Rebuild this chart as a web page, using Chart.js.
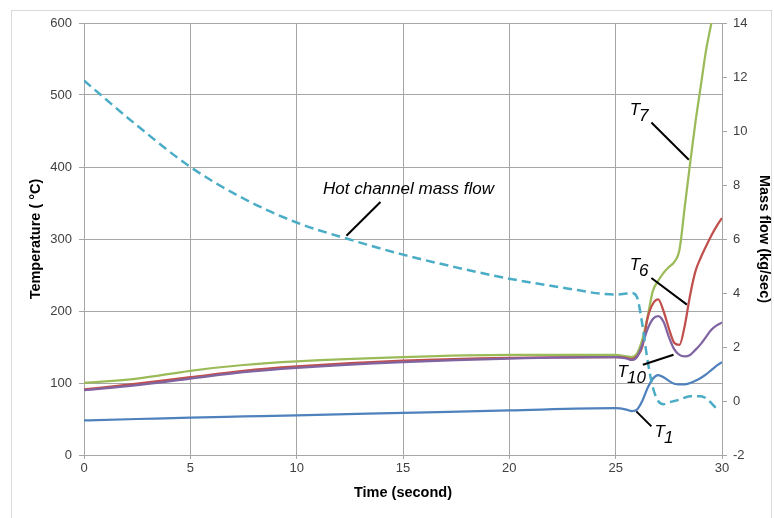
<!DOCTYPE html>
<html>
<head>
<meta charset="utf-8">
<script src="https://cdn.jsdelivr.net/npm/chart.js@4.4.0/dist/chart.umd.min.js"></script>
<style>
    html, body { margin: 0; padding: 0; background: #fff; }
    #wrap { position: relative; width: 774px; height: 518px; overflow: hidden; }
    #frame { position: absolute; left: 11px; top: 10px; width: 761px; height: 530px; border: 1px solid #d9d9d9; box-sizing: border-box; }
    #chart { position: absolute; left: 0; top: 0; }
</style>
</head>
<body>
<div id="wrap">
    <div id="frame"></div>
    <canvas id="chart" width="774" height="518"></canvas>
</div>
<script>
// time axis for the temperature curves (seconds)
const timeT = [0, 2.5, 5, 7.5, 10, 15, 20, 25, 25.5, 25.75, 26, 26.25, 26.5, 26.75, 27, 27.25, 27.5, 27.75, 28, 28.25, 28.5, 28.75, 29, 29.25, 29.5, 29.75, 30];
const tempT7  = [100, 106, 117, 125, 130, 136, 139, 139, 137, 136, 141, 160, 192, 228, 242, 253, 261, 268, 285, 345, 405, 462, 512, 562, 600, 640, null];
const tempT6  = [91, 99, 108, 117, 123, 131, 135, 136, 135, 133, 137, 150, 190, 210, 216, 200, 176, 156, 153, 180, 222, 255, 274, 290, 305, 318, 329];
const tempT10 = [90, 97, 106, 115, 121, 129, 134, 136, 134, 132, 136, 153, 175, 189, 193, 185, 164, 147, 139, 137, 139, 146, 154, 164, 174, 180, 184];
const tempT1  = [48, 50, 52, 53.5, 55, 58.5, 62, 65, 63, 61, 63, 75, 93, 106, 111, 108, 103, 99, 98, 98, 100, 103, 107, 112, 118, 124, 129];

// hot channel mass flow (kg/sec), right axis
const timeFlow = [0, 2.5, 5, 7.5, 10, 12.5, 15, 17.5, 20, 22.5, 25, 25.5, 25.75, 26, 26.25, 26.5, 26.75, 27, 27.25, 27.5, 28, 28.5, 29, 29.25, 29.5, 29.7];
const massFlow = [11.87, 10.2, 8.67, 7.5, 6.61, 5.98, 5.42, 4.95, 4.53, 4.2, 3.94, 3.98, 4.0, 3.85, 2.85, 1.5, 0.5, 0.0, -0.12, -0.05, 0.05, 0.18, 0.18, 0.1, -0.08, -0.25];

// axis ticks
const timeTicks = { min: 0, max: 30, step: 5 };
const tempTicks = { min: 0, max: 600, step: 100 };
const flowTicks = { min: -2, max: 14, step: 2 };

const toPoints = (xs, ys) => xs.map((x, i) => ({ x: x, y: ys[i] }));

// callouts: text anchor + leader line, in data units of the given axis
const callouts = [
    { axis: 'y1', text: 'Hot channel mass flow', sub: '', at: [11.24, 7.68], line: [[13.94, 7.37], [12.34, 6.12]] },
    { axis: 'y', text: 'T', sub: '7', at: [25.66, 472.6], line: [[26.68, 461.9], [28.44, 410.1]] },
    { axis: 'y', text: 'T', sub: '6', at: [25.66, 257.4], line: [[26.68, 245.8], [28.35, 208.8]] },
    { axis: 'y', text: 'T', sub: '10', at: [25.09, 108.8], line: [[26.28, 125.4], [27.72, 139.3]] },
    { axis: 'y', text: 'T', sub: '1', at: [26.83, 25.4], line: [[25.97, 60.6], [26.68, 39.7]] }
];

const calloutPlugin = {
    id: 'callouts',
    afterDatasetsDraw(chart) {
        const ctx = chart.ctx;
        const xs = chart.scales.x;
        ctx.save();
        callouts.forEach(c => {
            const ys = chart.scales[c.axis];
            ctx.strokeStyle = '#000';
            ctx.lineWidth = 2;
            ctx.beginPath();
            ctx.moveTo(xs.getPixelForValue(c.line[0][0]), ys.getPixelForValue(c.line[0][1]));
            ctx.lineTo(xs.getPixelForValue(c.line[1][0]), ys.getPixelForValue(c.line[1][1]));
            ctx.stroke();

            const tx = xs.getPixelForValue(c.at[0]);
            const ty = ys.getPixelForValue(c.at[1]);
            ctx.fillStyle = '#000';
            ctx.font = 'italic 17px "Liberation Sans", Arial, sans-serif';
            ctx.textBaseline = 'alphabetic';
            ctx.textAlign = 'left';
            ctx.fillText(c.text, tx, ty);
            if (c.sub) {
                const w = ctx.measureText(c.text).width;
                ctx.fillText(c.sub, tx + w - 1, ty + 6);
            }
        });
        ctx.restore();
    }
};

const gridColor = '#a6a6a6';
const tickFont = { family: '"Liberation Sans", Arial, sans-serif', size: 13 };
const titleFont = { family: '"Liberation Sans", Arial, sans-serif', size: 14.5, weight: 'bold' };

new Chart(document.getElementById('chart').getContext('2d'), {
    type: 'line',
    data: {
        datasets: [
            {
                label: 'Hot channel mass flow',
                data: toPoints(timeFlow, massFlow),
                yAxisID: 'y1',
                borderColor: '#4bacc6',
                borderWidth: 2.5,
                borderDash: [9, 5]
            },
            { label: 'T10', data: toPoints(timeT, tempT10), yAxisID: 'y', borderColor: '#8064a2', borderWidth: 2.25 },
            { label: 'T6', data: toPoints(timeT, tempT6), yAxisID: 'y', borderColor: '#c0504d', borderWidth: 2.25 },
            { label: 'T7', data: toPoints(timeT, tempT7), yAxisID: 'y', borderColor: '#9bbb59', borderWidth: 2.25 },
            { label: 'T1', data: toPoints(timeT, tempT1), yAxisID: 'y', borderColor: '#4f81bd', borderWidth: 2.25 }
        ]
    },
    options: {
        responsive: false,
        animation: false,
        layout: { padding: { top: 23, left: 0, right: 0, bottom: 0 } },
        elements: {
            point: { radius: 0, hoverRadius: 0 },
            line: { cubicInterpolationMode: 'monotone', fill: false }
        },
        plugins: { legend: { display: false }, tooltip: { enabled: false } },
        scales: {
            x: {
                type: 'linear',
                min: timeTicks.min,
                max: timeTicks.max,
                ticks: { stepSize: timeTicks.step, color: '#404040', font: tickFont, padding: 2, maxRotation: 0 },
                grid: { color: gridColor, tickLength: 4 },
                border: { color: gridColor },
                title: { display: true, text: 'Time (second)', color: '#000', font: titleFont, padding: { top: 0, bottom: 16 } },
                afterFit: s => { s.height = 63; }
            },
            y: {
                position: 'left',
                min: tempTicks.min,
                max: tempTicks.max,
                ticks: { stepSize: tempTicks.step, color: '#404040', font: tickFont, padding: 7 },
                grid: { color: gridColor, tickLength: 5 },
                border: { color: gridColor },
                title: { display: true, text: 'Temperature ( °C)', color: '#000', font: titleFont, padding: { top: 27, bottom: 0 } },
                afterFit: s => { s.width = 84; }
            },
            y1: {
                position: 'right',
                min: flowTicks.min,
                max: flowTicks.max,
                ticks: { stepSize: flowTicks.step, color: '#404040', font: tickFont, padding: 6 },
                grid: { drawOnChartArea: false, color: gridColor, tickLength: 5 },
                border: { color: gridColor },
                title: { display: true, text: 'Mass flow (kg/sec)', color: '#000', font: titleFont, padding: { top: 1, bottom: 0 } },
                afterFit: s => { s.width = 52; }
            }
        }
    },
    plugins: [calloutPlugin]
});
</script>
</body>
</html>
